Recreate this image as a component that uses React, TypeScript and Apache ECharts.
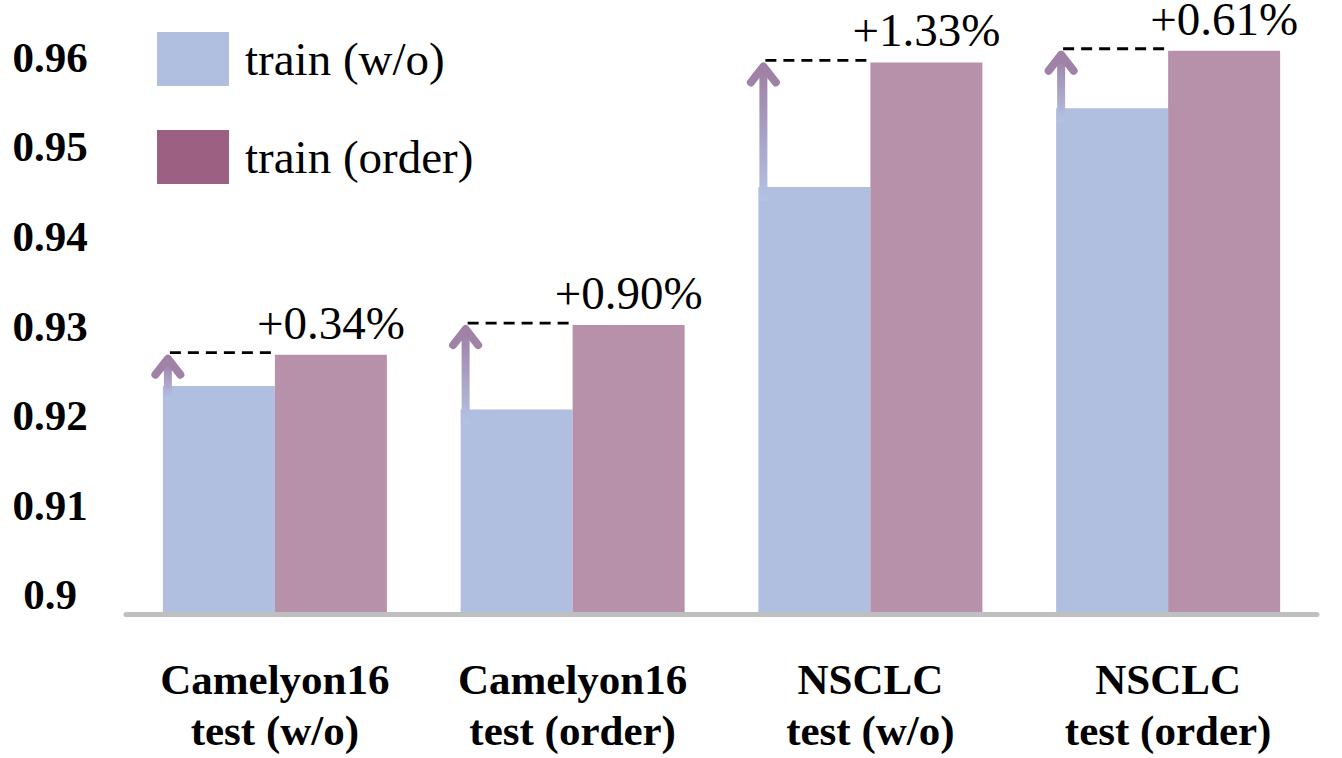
import React, { useEffect, useRef } from "react";
import * as echarts from "echarts";

const categories = [
  "Camelyon16\ntest (w/o)",
  "Camelyon16\ntest (order)",
  "NSCLC\ntest (w/o)",
  "NSCLC\ntest (order)",
];
const trainWo = [0.9233, 0.9207, 0.9455, 0.9543];
const trainOrder = [0.9268, 0.9301, 0.9594, 0.9607];
const gains = ["+0.34%", "+0.90%", "+1.33%", "+0.61%"];
const seriesNames = ["train (w/o)", "train (order)"];

const FONT = "'Times New Roman', 'Liberation Serif', serif";
const BLUE = "#b0bee0";
const PINK = "#b790aa";
const PINK_LEGEND = "#9b6082";
const BAR_W = 112;

export default function App() {
  const ref = useRef<HTMLDivElement>(null);
  useEffect(() => {
    if (!ref.current) return;
    const chart = echarts.init(ref.current, null, { renderer: "svg" });
    const arrowData = categories.map((_, i) => [i, trainWo[i], trainOrder[i]]);
    chart.setOption({
      animation: false,
      backgroundColor: "#ffffff",
      grid: { left: 126, right: 25, top: 40, bottom: 146 },
      legend: {
        orient: "vertical",
        left: 157,
        top: 32,
        padding: 0,
        icon: "rect",
        itemWidth: 72,
        itemHeight: 54,
        itemGap: 44,
        textStyle: {
          fontFamily: FONT,
          fontSize: 47,
          color: "#000",
          padding: [0, 0, 0, 11],
        },
        data: [
          { name: seriesNames[0], itemStyle: { color: BLUE } },
          { name: seriesNames[1], itemStyle: { color: PINK_LEGEND } },
        ],
      },
      xAxis: {
        type: "category",
        data: categories,
        offset: 2.5,
        axisLine: { show: true, lineStyle: { color: "#bfbfbf", width: 5 } },
        axisTick: { show: false },
        axisLabel: {
          margin: 39,
          fontFamily: FONT,
          fontSize: 43,
          fontWeight: "bold",
          color: "#000",
          lineHeight: 51,
          interval: 0,
        },
      },
      yAxis: {
        type: "value",
        min: 0.8981,
        max: 0.9619,
        splitNumber: 6,
        axisLine: { show: false },
        axisTick: { show: false },
        splitLine: { show: false },
        axisLabel: {
          align: "center",
          margin: 76,
          fontFamily: FONT,
          fontSize: 43,
          fontWeight: "bold",
          color: "#000",
          formatter: (v: number) =>
            Math.abs(Math.round(v * 100) - v * 100) < 1e-6
              ? String(Number(v.toFixed(2)))
              : "",
        },
      },
      series: [
        {
          name: seriesNames[0],
          type: "bar",
          data: trainWo,
          barWidth: BAR_W,
          barGap: "0%",
          itemStyle: { color: BLUE },
        },
        {
          name: seriesNames[1],
          type: "bar",
          data: trainOrder,
          barWidth: BAR_W,
          barGap: "0%",
          itemStyle: { color: PINK },
          label: {
            show: true,
            position: "top",
            distance: 15,
            lineHeight: 34,
            fontFamily: FONT,
            fontSize: 47,
            color: "#000",
            formatter: (p: any) => gains[p.dataIndex],
          },
        },
        {
          type: "custom",
          z: 5,
          data: arrowData,
          encode: { x: 0, y: 1 },
          renderItem: (_params: any, api: any) => {
            const idx = api.value(0);
            const blue = api.value(1);
            const pink = api.value(2);
            const pb = api.coord([idx, blue]);
            const pp = api.coord([idx, pink]);
            const cx = pb[0];
            const x = cx - BAR_W + 5;
            const yPink = pp[1];
            const tipY = yPink + 1;
            const baseY = pb[1] + 14;
            const lineY = yPink - 2;
            return {
              type: "group",
              children: [
                {
                  type: "line",
                  shape: { x1: x + 2, y1: lineY, x2: cx, y2: lineY },
                  style: { stroke: "#000", lineWidth: 2.8, lineDash: [11, 7] },
                },
                {
                  type: "rect",
                  shape: { x: x - 4, y: tipY + 5, width: 8, height: baseY - tipY - 5 },
                  style: {
                    fill: new echarts.graphic.LinearGradient(0, 0, 0, 1, [
                      { offset: 0, color: "#9f7fa5" },
                      { offset: 1, color: "#b3c3e6" },
                    ]),
                  },
                },
                {
                  type: "polyline",
                  shape: {
                    points: [
                      [x - 12.5, tipY + 19],
                      [x, tipY + 3],
                      [x + 12.5, tipY + 19],
                    ],
                  },
                  style: {
                    stroke: "#a082a7",
                    lineWidth: 8,
                    lineCap: "round",
                    lineJoin: "round",
                    fill: "none",
                  },
                },
              ],
            };
          },
        },
      ],
    });
    return () => chart.dispose();
  }, []);
  return (
    <div
      ref={ref}
      style={{ position: "absolute", left: 0, top: 0, width: 1342, height: 758 }}
    />
  );
}
